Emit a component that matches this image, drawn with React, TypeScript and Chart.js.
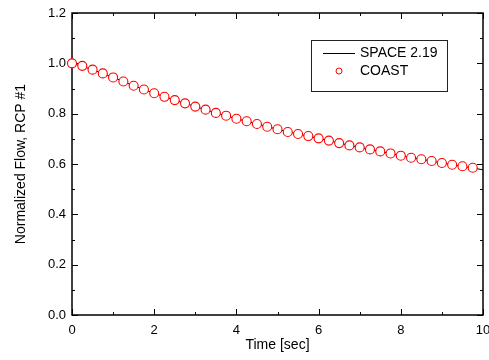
import React, { useEffect, useRef } from 'react';
import { Chart, registerables } from 'chart.js';

Chart.register(...registerables);

// COAST markers (sec, normalized flow)
const coastTime = [0, 0.25, 0.5, 0.75, 1, 1.25, 1.5, 1.75, 2, 2.25, 2.5, 2.75, 3, 3.25, 3.5, 3.75, 4, 4.25, 4.5, 4.75, 5, 5.25, 5.5, 5.75, 6, 6.25, 6.5, 6.75, 7, 7.25, 7.5, 7.75, 8, 8.25, 8.5, 8.75, 9, 9.25, 9.5, 9.75];
const coastFlow = [1.0, 0.99, 0.975, 0.96, 0.944, 0.928, 0.911, 0.896, 0.881, 0.867, 0.854, 0.841, 0.828, 0.816, 0.803, 0.792, 0.78, 0.77, 0.759, 0.748, 0.738, 0.727, 0.719, 0.711, 0.702, 0.693, 0.683, 0.674, 0.666, 0.658, 0.65, 0.642, 0.633, 0.625, 0.619, 0.612, 0.604, 0.597, 0.591, 0.585];

// SPACE 2.19 line
const spaceTime = [0, 0.5, 1, 1.5, 2, 2.5, 3, 3.5, 4, 4.5, 5, 5.5, 6, 6.5, 7, 7.5, 8, 8.5, 9, 9.5, 10];
const spaceFlow = [1.0, 0.975, 0.944, 0.911, 0.881, 0.854, 0.828, 0.803, 0.78, 0.759, 0.738, 0.719, 0.702, 0.683, 0.666, 0.65, 0.633, 0.619, 0.604, 0.591, 0.577];

const xMajorTicks = [0, 2, 4, 6, 8, 10];
const xMinorTicks = [1, 3, 5, 7, 9];
const yMajorTicks = [0, 0.2, 0.4, 0.6, 0.8, 1.0, 1.2];
const yMinorTicks = [0.1, 0.3, 0.5, 0.7, 0.9, 1.1];

const seriesNames = ['SPACE 2.19', 'COAST'];
const xTitle = 'Time [sec]';
const yTitle = 'Normalized Flow, RCP #1';

const FONT = '"Liberation Sans", Arial, sans-serif';

const framePlugin = {
  id: 'frameTicks',
  beforeDatasetsDraw(chart: any) {
    const { ctx, chartArea, scales } = chart;
    const { left, right, top, bottom } = chartArea;
    const x = scales.x;
    const y = scales.y;
    ctx.save();
    ctx.strokeStyle = '#000';
    ctx.lineWidth = 1.5;
    ctx.strokeRect(left, top, right - left, bottom - top);
    ctx.lineWidth = 1;
    const seg = (x1: number, y1: number, x2: number, y2: number) => {
      ctx.beginPath();
      ctx.moveTo(x1, y1);
      ctx.lineTo(x2, y2);
      ctx.stroke();
    };
    const xt = (vals: number[], len: number) => {
      vals.forEach((v) => {
        const px = Math.round(x.getPixelForValue(v)) + 0.5;
        seg(px, bottom, px, bottom - len);
        seg(px, top, px, top + len);
      });
    };
    const yt = (vals: number[], len: number) => {
      vals.forEach((v) => {
        const py = Math.round(y.getPixelForValue(v)) + 0.5;
        seg(left, py, left + len, py);
        seg(right, py, right - len, py);
      });
    };
    xt(xMajorTicks, 6);
    xt(xMinorTicks, 3);
    yt(yMajorTicks, 6);
    yt(yMinorTicks, 3);
    ctx.restore();
  },
};

const legendPlugin = {
  id: 'insideLegend',
  afterDraw(chart: any) {
    const { ctx } = chart;
    ctx.save();
    ctx.strokeStyle = '#222';
    ctx.lineWidth = 1;
    ctx.strokeRect(311.5, 40.5, 136, 51);
    ctx.font = `14px ${FONT}`;
    ctx.fillStyle = '#000';
    ctx.textBaseline = 'middle';
    ctx.textAlign = 'left';
    // line sample
    ctx.strokeStyle = '#000';
    ctx.beginPath();
    ctx.moveTo(323, 53.5);
    ctx.lineTo(355, 53.5);
    ctx.stroke();
    ctx.fillText(seriesNames[0], 360, 53);
    // circle sample
    ctx.beginPath();
    ctx.arc(339, 71, 3, 0, Math.PI * 2);
    ctx.fillStyle = '#fff';
    ctx.fill();
    ctx.strokeStyle = '#ff0000';
    ctx.stroke();
    ctx.fillStyle = '#000';
    ctx.fillText(seriesNames[1], 360, 71);
    ctx.restore();
  },
};

export default function App() {
  const ref = useRef<HTMLCanvasElement>(null);
  useEffect(() => {
    if (!ref.current) return;
    Chart.defaults.color = '#000';
    const chart = new Chart(ref.current, {
      type: 'scatter',
      data: {
        datasets: [
          {
            label: seriesNames[1],
            data: coastTime.map((t, i) => ({ x: t, y: coastFlow[i] })),
            showLine: false,
            pointStyle: 'circle',
            pointRadius: 4.5,
            pointBorderWidth: 1.1,
            pointBorderColor: '#ff0000',
            pointBackgroundColor: '#ffffff',
            order: 0,
            clip: false as any,
          },
          {
            label: seriesNames[0],
            data: spaceTime.map((t, i) => ({ x: t, y: spaceFlow[i] })),
            showLine: true,
            borderColor: '#000',
            borderWidth: 1,
            pointRadius: 0,
            order: 1,
            clip: false as any,
          },
        ],
      },
      options: {
        animation: false,
        responsive: false,
        layout: { padding: { top: 13, right: 6, left: 0, bottom: 0 } },
        plugins: { legend: { display: false }, tooltip: { enabled: false } },
        scales: {
          x: {
            type: 'linear',
            min: 0,
            max: 10,
            afterFit: (s: any) => {
              s.height = 45;
              s.paddingLeft = 0;
              s.paddingRight = 0;
            },
            afterBuildTicks: (s: any) => {
              s.ticks = xMajorTicks.map((v) => ({ value: v }));
            },
            grid: { display: false, drawTicks: false },
            border: { display: false },
            ticks: {
              padding: 8,
              font: { family: FONT, size: 13 },
              color: '#000',
              callback: (v: any) => String(v),
            },
            title: {
              display: true,
              text: xTitle,
              font: { family: FONT, size: 14 },
              color: '#000',
              padding: { top: 0, bottom: 6.6 },
            },
          },
          y: {
            type: 'linear',
            min: 0,
            max: 1.2,
            afterFit: (s: any) => {
              s.width = 72;
              s.paddingTop = 0;
              s.paddingBottom = 0;
            },
            afterBuildTicks: (s: any) => {
              s.ticks = yMajorTicks.map((v) => ({ value: v }));
            },
            grid: { display: false, drawTicks: false },
            border: { display: false },
            ticks: {
              padding: 6,
              font: { family: FONT, size: 13 },
              color: '#000',
              callback: (v: any) => Number(v).toFixed(1),
            },
            title: {
              display: true,
              text: yTitle,
              font: { family: FONT, size: 14 },
              color: '#000',
              padding: { top: 13, bottom: 0 },
            },
          },
        },
      },
      plugins: [framePlugin, legendPlugin],
    });
    return () => chart.destroy();
  }, []);
  return (
    <div style={{ position: 'absolute', left: 0, top: 0, width: 489, height: 360, background: '#fff' }}>
      <canvas ref={ref} width={489} height={360} style={{ display: 'block' }} />
    </div>
  );
}
